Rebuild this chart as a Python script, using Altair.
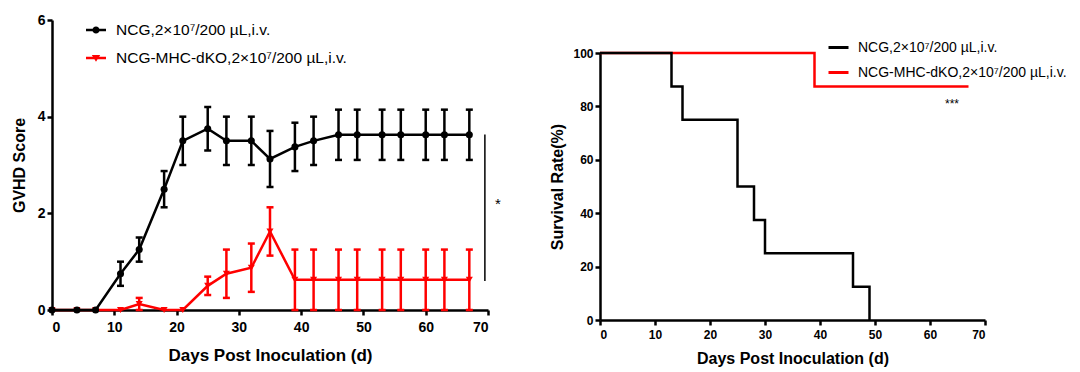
import altair as alt
import pandas as pd

FONT = "Liberation Sans"

# ---------------- data ----------------
series_names = ["NCG,2×10⁷/200 µL,i.v.", "NCG-MHC-dKO,2×10⁷/200 µL,i.v."]
series_colors = ["#000000", "#ff0000"]

days = [0, 4, 7, 11, 14, 18, 21, 25, 28, 32, 35, 39, 42, 46, 49, 53, 56, 60, 63, 67]
gvhd_ncg = [0, 0, 0, 0.75, 1.25, 2.5, 3.5, 3.75, 3.5, 3.5, 3.125, 3.375, 3.5,
            3.625, 3.625, 3.625, 3.625, 3.625, 3.625, 3.625]
sem_ncg = [0, 0, 0, 0.25, 0.25, 0.375, 0.5, 0.45, 0.5, 0.5, 0.58, 0.5, 0.5,
           0.52, 0.52, 0.52, 0.52, 0.52, 0.52, 0.52]
gvhd_dko = [0, 0, 0, 0, 0.125, 0, 0, 0.5, 0.75, 0.875, 1.625, 0.625, 0.625,
            0.625, 0.625, 0.625, 0.625, 0.625, 0.625, 0.625]
sem_dko = [0, 0, 0, 0, 0.125, 0, 0, 0.19, 0.5, 0.5, 0.5, 0.625, 0.625,
           0.625, 0.625, 0.625, 0.625, 0.625, 0.625, 0.625]

km_ncg_days = [0, 13, 15, 25, 28, 30, 46, 49]
km_ncg_surv = [100, 87.5, 75, 50, 37.5, 25, 12.5, 0]
km_dko_days = [0, 39, 67]
km_dko_surv = [100, 87.5, 87.5]

sig_left_x = [69.5]
sig_left_y = [0.6]
sig_left_y2 = [3.63]
star_left = {"x": [71.6], "y": [2.2], "t": ["*"]}
star_right = {"x": [64], "y": [81], "t": ["***"]}

x_ticks = [0, 10, 20, 30, 40, 50, 60, 70]
gvhd_ticks = [0, 2, 4, 6]
surv_ticks = [0, 20, 40, 60, 80, 100]

# legend symbols: line segment with marker
legend_shapes = [
    "M-1,-0.13H1V0.13H-1Z M0.36,0 A0.36,0.36 0 1,1 -0.36,0 A0.36,0.36 0 1,1 0.36,0Z",
    "M-1,-0.13H1V0.13H-1Z M-0.42,-0.3L0.42,-0.3L0,0.38Z",
]

# ---------------- frames ----------------
def gv_frame(d, vals, sems, name):
    df = pd.DataFrame({"day": d, "score": vals, "sem": sems})
    df["lo"] = (df["score"] - df["sem"]).clip(lower=0)
    df["hi"] = df["score"] + df["sem"]
    df["series"] = name
    return df

df_ncg = gv_frame(days, gvhd_ncg, sem_ncg, series_names[0])
df_dko = gv_frame(days, gvhd_dko, sem_dko, series_names[1])
df_all = pd.concat([df_ncg, df_dko])

ax_common = dict(
    grid=False, domainColor="black", domainWidth=2.5, tickColor="black",
    tickWidth=2.5, tickSize=5, labelColor="black", labelFont=FONT,
    labelFontWeight="bold", titleFont=FONT, titleFontWeight="bold",
    titleColor="black",
)

xl = alt.X("day:Q", scale=alt.Scale(domain=[0, 70], nice=False),
           axis=alt.Axis(values=x_ticks, title="Days Post Inoculation (d)",
                         labelFontSize=14, titleFontSize=17, labelPadding=5,
                         titlePadding=13, **ax_common))
yl_scale = alt.Scale(domain=[0, 6], nice=False)
yl_axis = alt.Axis(values=gvhd_ticks, title="GVHD Score", labelFontSize=14,
                   titleFontSize=16, labelPadding=2, titlePadding=10, **ax_common)


def series_layers(df, color, shape):
    base = alt.Chart(df)
    line = base.mark_line(color=color, strokeWidth=2.5).encode(
        x=xl, y=alt.Y("score:Q", scale=yl_scale, axis=yl_axis))
    err = base.transform_filter("datum.sem > 0")
    bars = err.mark_rule(color=color, strokeWidth=2.5).encode(
        x="day:Q", y="lo:Q", y2="hi:Q")
    cap_hi = err.mark_rule(color=color, strokeWidth=2.5, xOffset=-3.5, x2Offset=3.5).encode(
        x="day:Q", x2="day:Q", y="hi:Q")
    cap_lo = err.mark_rule(color=color, strokeWidth=2.5, xOffset=-3.5, x2Offset=3.5).encode(
        x="day:Q", x2="day:Q", y="lo:Q")
    pts = base.mark_point(color=color, filled=True, opacity=1, shape=shape, size=50).encode(
        x="day:Q", y="score:Q")
    return [line, bars, cap_hi, cap_lo, pts]


sig_df = pd.DataFrame({"x": sig_left_x, "y": sig_left_y, "y2": sig_left_y2})
sig_rule = alt.Chart(sig_df).mark_rule(color="black", strokeWidth=1.5).encode(
    x="x:Q", y="y:Q", y2="y2:Q")
sig_star = alt.Chart(pd.DataFrame(star_left)).mark_text(
    font=FONT, fontSize=15, color="black", align="center", baseline="middle").encode(
    x="x:Q", y="y:Q", text="t:N")

left_legend_props = dict(title=None, orient="none", legendX=34, legendY=0,
                         labelFont=FONT, labelFontSize=15.5, labelColor="black",
                         labelLimit=0, symbolSize=400, rowPadding=9, labelOffset=10,
                         padding=0, symbolStrokeWidth=0)
legend_left = alt.Chart(df_all).transform_filter("false").mark_point(
    filled=True, opacity=1, size=400).encode(
    x="day:Q", y="score:Q",
    color=alt.Color("series:N", scale=alt.Scale(domain=series_names, range=series_colors),
                    legend=alt.Legend(**left_legend_props)),
    shape=alt.Shape("series:N", scale=alt.Scale(domain=series_names, range=legend_shapes),
                    legend=alt.Legend(**left_legend_props)),
)

left = alt.layer(
    *series_layers(df_dko, "#ff0000", "triangle-down"),
    *series_layers(df_ncg, "#000000", "circle"),
    sig_rule, sig_star, legend_left,
).properties(width=436, height=290)

# ---------------- right chart ----------------
km_df = pd.concat([
    pd.DataFrame({"day": km_ncg_days, "surv": km_ncg_surv, "series": series_names[0]}),
    pd.DataFrame({"day": km_dko_days, "surv": km_dko_surv, "series": series_names[1]}),
])

xr = alt.X("day:Q", scale=alt.Scale(domain=[0, 70], nice=False),
           axis=alt.Axis(values=x_ticks, title="Days Post Inoculation (d)",
                         labelFontSize=12, titleFontSize=16, labelPadding=4,
                         titlePadding=10, **ax_common))
yr = alt.Y("surv:Q", scale=alt.Scale(domain=[0, 100], nice=False),
           axis=alt.Axis(values=surv_ticks, title="Survival Rate(%)", labelFontSize=12,
                         titleFontSize=16, labelPadding=2, titlePadding=7, **ax_common))

km_base = alt.Chart(km_df)
km_red = km_base.transform_filter(alt.datum.series == series_names[1]).mark_line(
    color="#ff0000", strokeWidth=2.5, interpolate="step-after").encode(x=xr, y=yr)
km_black = km_base.transform_filter(alt.datum.series == series_names[0]).mark_line(
    color="#000000", strokeWidth=2.5, interpolate="step-after").encode(x="day:Q", y="surv:Q")
star_r = alt.Chart(pd.DataFrame(star_right)).mark_text(
    font=FONT, fontSize=12, color="black", align="center", baseline="middle").encode(
    x="x:Q", y="y:Q", text="t:N")
legend_right = km_base.transform_filter("false").mark_line(strokeWidth=3).encode(
    x="day:Q", y="surv:Q",
    color=alt.Color("series:N", scale=alt.Scale(domain=series_names, range=series_colors),
                    legend=alt.Legend(title=None, orient="none", legendX=227, legendY=16,
                                      labelFont=FONT, labelFontSize=14, labelColor="black",
                                      labelLimit=0, symbolType="stroke", symbolSize=400,
                                      symbolStrokeWidth=3, rowPadding=6, labelOffset=8,
                                      padding=0)),
)

right = alt.layer(km_red, km_black, star_r, legend_right).properties(width=385, height=267)

# invisible spacer to lower the right panel
spacer = alt.Chart(pd.DataFrame({"v": [0]})).mark_point(opacity=0).encode(
    x=alt.X("v:Q", axis=None), y=alt.Y("v:Q", axis=None)).properties(width=10, height=15)

right_col = alt.vconcat(spacer, right, spacing=12)

chart = alt.hconcat(left, right_col, spacing=48).resolve_scale(
    color="independent", shape="independent").resolve_legend(
    color="independent", shape="independent").properties(
    padding={"left": 3, "top": 5, "right": 5, "bottom": 5}
).configure_view(stroke=None)

chart.save("out.html", embed_options={"renderer": "svg", "actions": False})
